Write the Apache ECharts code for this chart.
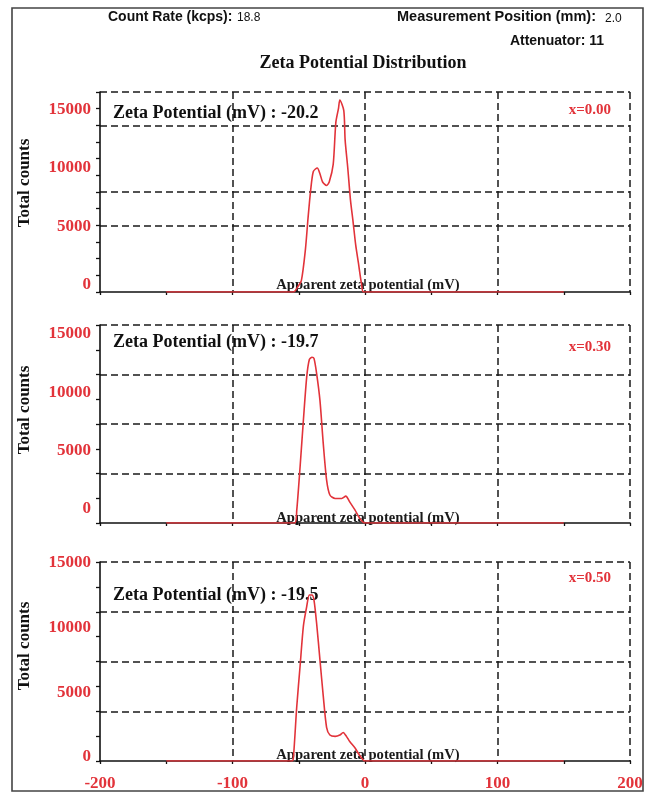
<!DOCTYPE html>
<html>
<head>
<meta charset="utf-8">
<script src="https://cdn.jsdelivr.net/npm/echarts@6/dist/echarts.min.js"></script>
<style>
html,body{margin:0;padding:0;background:#fff;}
#chart{width:650px;height:793px;}
</style>
</head>
<body>
<div id="chart"></div>
<script>
// ---- data ----
const potentials1 = [-150, -54, -51, -48, -45, -43, -41, -39, -36, -34, -32, -29, -27, -24, -22, -20, -19, -16, -15, -13, -11, -9, -7, -5, -2.5, -1, 150];
const counts1     = [0, 0, 400, 1000, 3600, 6300, 8700, 10300, 10600, 10100, 9400, 9100, 9400, 10900, 14500, 15700, 16400, 15500, 13000, 10600, 7900, 6000, 4000, 2500, 600, 0, 0];

const potentials2 = [-150, -53, -51.5, -49, -46.5, -44, -42, -40, -38.5, -36.5, -34, -31.5, -29, -26.5, -22.5, -17.5, -14.5, -11.5, -7.5, -4, 0, 150];
const counts2     = [0, 0, 1100, 4800, 8800, 12500, 14000, 14200, 14100, 12800, 10500, 6800, 3700, 2400, 2100, 2100, 2300, 1800, 1100, 400, 0, 0];

const potentials3 = [-150, -55, -54, -51.5, -49, -46.5, -44, -42, -40, -38.5, -36.5, -34, -31.5, -29, -26.5, -22.5, -19, -16.5, -14, -11.5, -7.5, -4.5, -1.5, 0, 150];
const counts3     = [0, 0, 300, 4200, 7300, 10400, 11900, 12800, 12800, 12400, 10600, 7800, 5000, 2600, 2000, 1900, 2000, 2200, 1900, 1500, 1000, 500, 100, 0, 0];

const zetaValues = ['-20.2', '-19.7', '-19.5'];
const panelTags = ['x=0.00', 'x=0.30', 'x=0.50'];
const countTicks = [0, 5000, 10000, 15000];
const countMax = [17090, 16960, 15340];
const headerCountRate = '18.8';
const headerPosition = '2.0';
const headerAttenuator = '11';

// ---- layout / style ----
const RED = '#e2333a';
const SERIF = '"Liberation Serif", "Times New Roman", serif';
const NARROW = '"Liberation Sans Narrow", "Liberation Sans", Arial, sans-serif';
const HIDE = 'rgba(0,0,0,0)';
const GRIDC = '#1a1a1a';
const panels = [
  {top: 92, height: 200, divMax: 6, divColors: [HIDE, HIDE, GRIDC, GRIDC, HIDE, GRIDC, GRIDC], shift: 7, zetaY: 113, tagY: 110, appY: 285, nameY: 183},
  {top: 325, height: 198, divMax: 4, divColors: [HIDE, GRIDC, GRIDC, GRIDC, GRIDC], shift: 14, zetaY: 342, tagY: 347, appY: 518, nameY: 410},
  {top: 562, height: 199, divMax: 4, divColors: [HIDE, GRIDC, GRIDC, GRIDC, GRIDC], shift: 4, zetaY: 595, tagY: 578, appY: 755, nameY: 646}
];
const allPot = [potentials1, potentials2, potentials3];
const allCnt = [counts1, counts2, counts3];

const grid = [], xAxis = [], yAxis = [], series = [], graphic = [];
panels.forEach((p, i) => {
  grid.push({left: 100, right: 20, top: p.top, height: p.height, containLabel: false, outerBoundsMode: 'none'});
  xAxis.push({
    gridIndex: i, type: 'value', min: -200, max: 200, interval: 100,
    axisLine: {show: true, onZero: false, lineStyle: {color: '#111', width: 1.6}},
    axisTick: {show: true, length: 3, lineStyle: {color: '#111', width: 1.3}},
    minorTick: {show: true, splitNumber: 2, length: 3, lineStyle: {color: '#111', width: 1.3}},
    axisLabel: {show: i === 2, color: RED, fontFamily: SERIF, fontWeight: 'bold', fontSize: 17, margin: 14},
    splitLine: {show: true, lineStyle: {type: [7, 4], color: [HIDE, GRIDC, GRIDC, GRIDC, GRIDC], width: 1.5}}
  });
  yAxis.push({
    gridIndex: i, type: 'value', min: 0, max: countMax[i], position: 'left',
    axisLine: {show: false, onZero: false}, axisTick: {show: false}, splitLine: {show: false},
    axisLabel: {customValues: countTicks, formatter: v => String(v), color: RED, fontFamily: SERIF,
      fontWeight: 'bold', fontSize: 17, margin: 9, verticalAlign: 'bottom', lineHeight: 2 * p.shift}
  });
  yAxis.push({
    gridIndex: i, type: 'value', min: 0, max: p.divMax, interval: 1, position: 'left',
    axisLine: {show: true, onZero: false, lineStyle: {color: '#111', width: 1.6}},
    axisTick: {show: true, length: 4, lineStyle: {color: '#111', width: 1.3}},
    minorTick: {show: true, splitNumber: 2, length: 4, lineStyle: {color: '#111', width: 1.3}},
    axisLabel: {show: false},
    splitLine: {show: true, lineStyle: {type: [7, 4], color: p.divColors, width: 1.5}}
  });
  series.push({
    type: 'line', xAxisIndex: i, yAxisIndex: 2 * i,
    data: allPot[i].map((v, k) => [v, allCnt[i][k]]),
    symbol: 'none', showSymbol: false, smooth: 0.25,
    lineStyle: {color: RED, width: 1.6}, z: 5, silent: true
  });
  graphic.push({type: 'text', x: 113, y: p.zetaY, style: {text: 'Zeta Potential (mV) : ' + zetaValues[i],
    font: 'bold 18px ' + SERIF, fill: '#111', textVerticalAlign: 'middle'}});
  graphic.push({type: 'text', x: 611, y: p.tagY, style: {text: panelTags[i], font: 'bold 15px ' + SERIF,
    fill: RED, textAlign: 'right', textVerticalAlign: 'middle'}});
  graphic.push({type: 'text', x: 368, y: p.appY, style: {text: 'Apparent zeta potential (mV)', font: 'bold 14.6px ' + SERIF,
    fill: '#1a1a1a', textAlign: 'center', textVerticalAlign: 'middle'}});
  graphic.push({type: 'text', x: 25, y: p.nameY, rotation: Math.PI / 2, style: {text: 'Total counts', font: 'bold 17px ' + SERIF,
    fill: '#111', textAlign: 'center', textVerticalAlign: 'middle'}});
});

graphic.push({type: 'rect', shape: {x: 12, y: 8, width: 631, height: 783}, style: {fill: 'none', stroke: '#444', lineWidth: 1.6}, z: -1});
graphic.push({type: 'text', x: 108, y: 17, style: {text: 'Count Rate (kcps):', font: 'bold 14px ' + NARROW, fill: '#111', textVerticalAlign: 'middle'}});
graphic.push({type: 'text', x: 237, y: 18, style: {text: headerCountRate, font: '12px ' + NARROW, fill: '#111', textVerticalAlign: 'middle'}});
graphic.push({type: 'text', x: 397, y: 17, style: {text: 'Measurement Position (mm):', font: 'bold 14.5px ' + NARROW, fill: '#111', textVerticalAlign: 'middle'}});
graphic.push({type: 'text', x: 605, y: 19, style: {text: headerPosition, font: '12px ' + NARROW, fill: '#111', textVerticalAlign: 'middle'}});
graphic.push({type: 'text', x: 604, y: 41, style: {text: 'Attenuator: ' + headerAttenuator, font: 'bold 14px ' + NARROW, fill: '#111', textAlign: 'right', textVerticalAlign: 'middle'}});
graphic.push({type: 'text', x: 363, y: 63, style: {text: 'Zeta Potential Distribution', font: 'bold 18px ' + SERIF, fill: '#111', textAlign: 'center', textVerticalAlign: 'middle'}});

const chart = echarts.init(document.getElementById('chart'), null, {renderer: 'canvas'});
chart.setOption({
  animation: false,
  backgroundColor: '#fff',
  grid, xAxis, yAxis, series, graphic
});
</script>
</body>
</html>
